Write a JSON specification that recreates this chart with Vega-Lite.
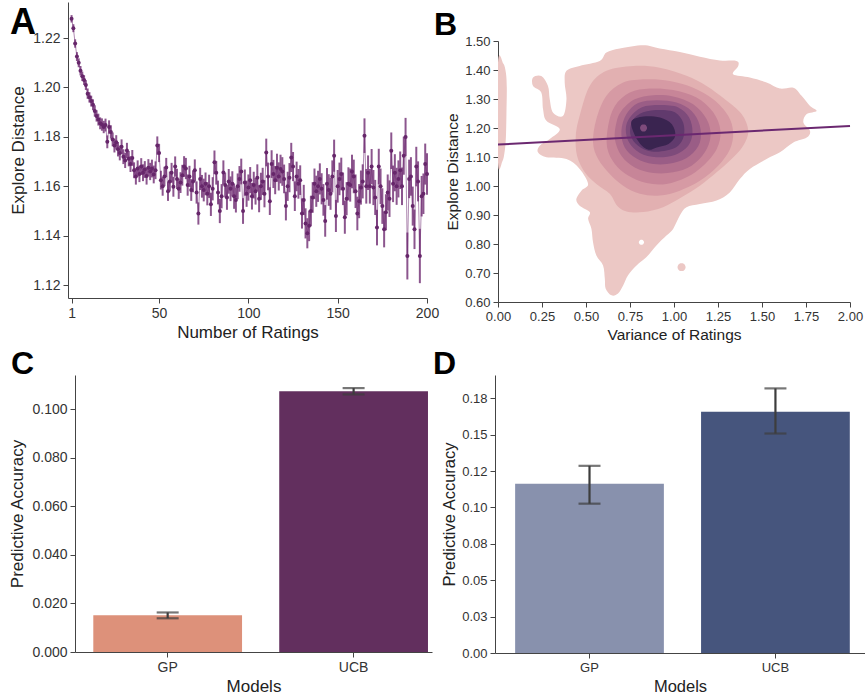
{
"$schema": "https://vega.github.io/schema/vega-lite/v6.json",
"padding": {"left": 8, "top": 2, "right": 0, "bottom": 0},
"background": "white",
"config": {
  "font": "Liberation Sans",
  "view": {"stroke": null},
  "axis": {"grid": false, "domainColor": "#444", "tickColor": "#444", "labelColor": "#333", "titleColor": "#222", "labelFontSize": 14, "titleFontSize": 17, "titleFontWeight": "normal", "tickSize": 5, "labelPadding": 3, "domainWidth": 1, "tickWidth": 1, "labelOverlap": false, "labelFlush": false},
  "title": {"fontSize": 32, "fontWeight": "bold", "color": "#000", "anchor": "start", "frame": "group"}
},
"datasets": {
"a": [
{"n":1,"m":1.2278,"e":0.0015},{"n":2,"m":1.2240,"e":0.0016},{"n":3,"m":1.2178,"e":0.0017},{"n":4,"m":1.2125,"e":0.0018},{"n":5,"m":1.2100,"e":0.0018},
{"n":6,"m":1.2068,"e":0.0019},{"n":7,"m":1.2045,"e":0.0019},{"n":8,"m":1.2030,"e":0.0020},{"n":9,"m":1.2010,"e":0.0020},{"n":10,"m":1.1975,"e":0.0021},
{"n":11,"m":1.1960,"e":0.0021},{"n":12,"m":1.1945,"e":0.0022},{"n":13,"m":1.1930,"e":0.0022},{"n":14,"m":1.1905,"e":0.0023},{"n":15,"m":1.1885,"e":0.0023},
{"n":16,"m":1.1870,"e":0.0024},{"n":17,"m":1.1855,"e":0.0024},{"n":18,"m":1.1850,"e":0.0025},{"n":19,"m":1.1840,"e":0.0025},{"n":20,"m":1.1848,"e":0.0026},
{"n":21,"m":1.1780,"e":0.0026},{"n":22,"m":1.1840,"e":0.0027},{"n":23,"m":1.1820,"e":0.0027},{"n":24,"m":1.1790,"e":0.0028},{"n":25,"m":1.1765,"e":0.0028},
{"n":26,"m":1.1778,"e":0.0029},{"n":27,"m":1.1750,"e":0.0029},{"n":28,"m":1.1735,"e":0.0030},{"n":29,"m":1.1760,"e":0.0030},{"n":30,"m":1.1720,"e":0.0030},
{"n":31,"m":1.1705,"e":0.0031},{"n":32,"m":1.1745,"e":0.0031},{"n":33,"m":1.1712,"e":0.0031},{"n":34,"m":1.1690,"e":0.0032},{"n":35,"m":1.1715,"e":0.0032},
{"n":36,"m":1.1665,"e":0.0032},{"n":37,"m":1.1640,"e":0.0033},{"n":38,"m":1.1672,"e":0.0033},{"n":39,"m":1.1650,"e":0.0033},{"n":40,"m":1.1680,"e":0.0034},
{"n":41,"m":1.1655,"e":0.0034},{"n":42,"m":1.1668,"e":0.0034},{"n":43,"m":1.1642,"e":0.0035},{"n":44,"m":1.1675,"e":0.0035},{"n":45,"m":1.1660,"e":0.0035},
{"n":46,"m":1.1672,"e":0.0036},{"n":47,"m":1.1648,"e":0.0036},{"n":48,"m":1.1665,"e":0.0036},{"n":49,"m":1.1765,"e":0.0037},{"n":50,"m":1.1735,"e":0.0037},
{"n":51,"m":1.1625,"e":0.0038},{"n":52,"m":1.1600,"e":0.0038},{"n":53,"m":1.1640,"e":0.0039},{"n":54,"m":1.1676,"e":0.0039},{"n":55,"m":1.1580,"e":0.0039},
{"n":56,"m":1.1620,"e":0.0040},{"n":57,"m":1.1655,"e":0.0040},{"n":58,"m":1.1598,"e":0.0040},{"n":59,"m":1.1680,"e":0.0041},{"n":60,"m":1.1630,"e":0.0041},
{"n":61,"m":1.1590,"e":0.0041},{"n":62,"m":1.1615,"e":0.0042},{"n":63,"m":1.1645,"e":0.0042},{"n":64,"m":1.1680,"e":0.0042},{"n":65,"m":1.1672,"e":0.0043},
{"n":66,"m":1.1605,"e":0.0043},{"n":67,"m":1.1640,"e":0.0043},{"n":68,"m":1.1585,"e":0.0044},{"n":69,"m":1.1620,"e":0.0044},{"n":70,"m":1.1665,"e":0.0044},
{"n":71,"m":1.1575,"e":0.0045},{"n":72,"m":1.1490,"e":0.0045},{"n":73,"m":1.1630,"e":0.0045},{"n":74,"m":1.1600,"e":0.0046},{"n":75,"m":1.1585,"e":0.0046},
{"n":76,"m":1.1610,"e":0.0046},{"n":77,"m":1.1570,"e":0.0047},{"n":78,"m":1.1600,"e":0.0047},{"n":79,"m":1.1527,"e":0.0047},{"n":80,"m":1.1590,"e":0.0047},
{"n":81,"m":1.1697,"e":0.0048},{"n":82,"m":1.1655,"e":0.0048},{"n":83,"m":1.1575,"e":0.0048},{"n":84,"m":1.1500,"e":0.0049},{"n":85,"m":1.1560,"e":0.0049},
{"n":86,"m":1.1656,"e":0.0049},{"n":87,"m":1.1605,"e":0.0050},{"n":88,"m":1.1555,"e":0.0050},{"n":89,"m":1.1620,"e":0.0050},{"n":90,"m":1.1590,"e":0.0050},
{"n":91,"m":1.1610,"e":0.0051},{"n":92,"m":1.1560,"e":0.0051},{"n":93,"m":1.1545,"e":0.0051},{"n":94,"m":1.1600,"e":0.0052},{"n":95,"m":1.1630,"e":0.0052},
{"n":96,"m":1.1660,"e":0.0052},{"n":97,"m":1.1500,"e":0.0052},{"n":98,"m":1.1615,"e":0.0053},{"n":99,"m":1.1570,"e":0.0053},{"n":100,"m":1.1595,"e":0.0053},
{"n":101,"m":1.1625,"e":0.0053},{"n":102,"m":1.1560,"e":0.0054},{"n":103,"m":1.1605,"e":0.0054},{"n":104,"m":1.1580,"e":0.0054},{"n":105,"m":1.1635,"e":0.0054},
{"n":106,"m":1.1550,"e":0.0055},{"n":107,"m":1.1600,"e":0.0055},{"n":108,"m":1.1620,"e":0.0055},{"n":109,"m":1.1570,"e":0.0055},{"n":110,"m":1.1737,"e":0.0056},
{"n":111,"m":1.1640,"e":0.0056},{"n":112,"m":1.1540,"e":0.0056},{"n":113,"m":1.1690,"e":0.0056},{"n":114,"m":1.1650,"e":0.0057},{"n":115,"m":1.1625,"e":0.0057},
{"n":116,"m":1.1675,"e":0.0057},{"n":117,"m":1.1640,"e":0.0057},{"n":118,"m":1.1670,"e":0.0058},{"n":119,"m":1.1660,"e":0.0058},{"n":120,"m":1.1630,"e":0.0058},
{"n":121,"m":1.1520,"e":0.0058},{"n":122,"m":1.1600,"e":0.0059},{"n":123,"m":1.1635,"e":0.0059},{"n":124,"m":1.1717,"e":0.0059},{"n":125,"m":1.1680,"e":0.0059},
{"n":126,"m":1.1560,"e":0.0060},{"n":127,"m":1.1640,"e":0.0060},{"n":128,"m":1.1610,"e":0.0060},{"n":129,"m":1.1625,"e":0.0060},{"n":130,"m":1.1490,"e":0.0061},
{"n":131,"m":1.1545,"e":0.0061},{"n":132,"m":1.1450,"e":0.0061},{"n":133,"m":1.1410,"e":0.0061},{"n":134,"m":1.1440,"e":0.0062},{"n":135,"m":1.1500,"e":0.0062},
{"n":136,"m":1.1555,"e":0.0062},{"n":137,"m":1.1610,"e":0.0062},{"n":138,"m":1.1580,"e":0.0063},{"n":139,"m":1.1600,"e":0.0063},{"n":140,"m":1.1630,"e":0.0063},
{"n":141,"m":1.1590,"e":0.0063},{"n":142,"m":1.1545,"e":0.0064},{"n":143,"m":1.1460,"e":0.0064},{"n":144,"m":1.1610,"e":0.0064},{"n":145,"m":1.1585,"e":0.0064},
{"n":146,"m":1.1570,"e":0.0065},{"n":147,"m":1.1640,"e":0.0065},{"n":148,"m":1.1724,"e":0.0065},{"n":149,"m":1.1480,"e":0.0065},{"n":150,"m":1.1600,"e":0.0066},
{"n":151,"m":1.1630,"e":0.0066},{"n":152,"m":1.1650,"e":0.0066},{"n":153,"m":1.1590,"e":0.0066},{"n":154,"m":1.1475,"e":0.0067},{"n":155,"m":1.1550,"e":0.0067},
{"n":156,"m":1.1610,"e":0.0067},{"n":157,"m":1.1605,"e":0.0067},{"n":158,"m":1.1660,"e":0.0068},{"n":159,"m":1.1640,"e":0.0068},{"n":160,"m":1.1580,"e":0.0068},
{"n":161,"m":1.1490,"e":0.0068},{"n":162,"m":1.1540,"e":0.0069},{"n":163,"m":1.1595,"e":0.0069},{"n":164,"m":1.1620,"e":0.0069},{"n":165,"m":1.1805,"e":0.0070},
{"n":166,"m":1.1600,"e":0.0070},{"n":167,"m":1.1655,"e":0.0070},{"n":168,"m":1.1600,"e":0.0070},{"n":169,"m":1.1680,"e":0.0071},{"n":170,"m":1.1595,"e":0.0071},
{"n":171,"m":1.1555,"e":0.0071},{"n":172,"m":1.1433,"e":0.0072},{"n":173,"m":1.1680,"e":0.0072},{"n":174,"m":1.1600,"e":0.0072},{"n":175,"m":1.1520,"e":0.0072},
{"n":176,"m":1.1426,"e":0.0073},{"n":177,"m":1.1495,"e":0.0073},{"n":178,"m":1.1575,"e":0.0073},{"n":179,"m":1.1550,"e":0.0074},{"n":180,"m":1.1744,"e":0.0074},
{"n":181,"m":1.1610,"e":0.0074},{"n":182,"m":1.1655,"e":0.0075},{"n":183,"m":1.1600,"e":0.0075},{"n":184,"m":1.1630,"e":0.0075},{"n":185,"m":1.1665,"e":0.0076},
{"n":186,"m":1.1600,"e":0.0076},{"n":187,"m":1.1724,"e":0.0077},{"n":188,"m":1.1800,"e":0.0077},{"n":189,"m":1.1318,"e":0.0095},{"n":190,"m":1.1630,"e":0.0078},
{"n":191,"m":1.1640,"e":0.0078},{"n":192,"m":1.1520,"e":0.0079},{"n":193,"m":1.1426,"e":0.0080},{"n":194,"m":1.1680,"e":0.0080},{"n":195,"m":1.1620,"e":0.0081},
{"n":196,"m":1.1318,"e":0.0110},{"n":197,"m":1.1560,"e":0.0082},{"n":198,"m":1.1570,"e":0.0082},{"n":199,"m":1.1690,"e":0.0083},{"n":200,"m":1.1650,"e":0.0084}
],
"kde": [
{"p":"p01","lv":1,"i":1,"x":0.389,"y":1.397},{"p":"p01","lv":1,"i":2,"x":0.464,"y":1.414},{"p":"p01","lv":1,"i":3,"x":0.578,"y":1.431},{"p":"p01","lv":1,"i":4,"x":0.616,"y":1.460},
{"p":"p01","lv":1,"i":5,"x":0.692,"y":1.474},{"p":"p01","lv":1,"i":6,"x":0.825,"y":1.485},{"p":"p01","lv":1,"i":7,"x":0.919,"y":1.474},{"p":"p01","lv":1,"i":8,"x":1.033,"y":1.462},
{"p":"p01","lv":1,"i":9,"x":1.147,"y":1.446},{"p":"p01","lv":1,"i":10,"x":1.261,"y":1.433},{"p":"p01","lv":1,"i":11,"x":1.355,"y":1.431},{"p":"p01","lv":1,"i":12,"x":1.365,"y":1.414},
{"p":"p01","lv":1,"i":13,"x":1.336,"y":1.385},{"p":"p01","lv":1,"i":14,"x":1.431,"y":1.374},{"p":"p01","lv":1,"i":15,"x":1.526,"y":1.357},{"p":"p01","lv":1,"i":16,"x":1.602,"y":1.336},
{"p":"p01","lv":1,"i":17,"x":1.678,"y":1.339},{"p":"p01","lv":1,"i":18,"x":1.725,"y":1.311},{"p":"p01","lv":1,"i":19,"x":1.773,"y":1.276},{"p":"p01","lv":1,"i":20,"x":1.810,"y":1.259},
{"p":"p01","lv":1,"i":21,"x":1.754,"y":1.248},{"p":"p01","lv":1,"i":22,"x":1.735,"y":1.219},{"p":"p01","lv":1,"i":23,"x":1.773,"y":1.190},{"p":"p01","lv":1,"i":24,"x":1.754,"y":1.167},
{"p":"p01","lv":1,"i":25,"x":1.678,"y":1.150},{"p":"p01","lv":1,"i":26,"x":1.602,"y":1.116},{"p":"p01","lv":1,"i":27,"x":1.526,"y":1.093},{"p":"p01","lv":1,"i":28,"x":1.431,"y":1.059},
{"p":"p01","lv":1,"i":29,"x":1.374,"y":1.024},{"p":"p01","lv":1,"i":30,"x":1.317,"y":0.978},{"p":"p01","lv":1,"i":31,"x":1.242,"y":0.950},{"p":"p01","lv":1,"i":32,"x":1.147,"y":0.938},
{"p":"p01","lv":1,"i":33,"x":1.071,"y":0.927},{"p":"p01","lv":1,"i":34,"x":1.033,"y":0.898},{"p":"p01","lv":1,"i":35,"x":0.995,"y":0.852},{"p":"p01","lv":1,"i":36,"x":0.957,"y":0.829},
{"p":"p01","lv":1,"i":37,"x":0.900,"y":0.795},{"p":"p01","lv":1,"i":38,"x":0.844,"y":0.755},{"p":"p01","lv":1,"i":39,"x":0.787,"y":0.726},{"p":"p01","lv":1,"i":40,"x":0.739,"y":0.692},
{"p":"p01","lv":1,"i":41,"x":0.711,"y":0.657},{"p":"p01","lv":1,"i":42,"x":0.682,"y":0.629},{"p":"p01","lv":1,"i":43,"x":0.645,"y":0.623},{"p":"p01","lv":1,"i":44,"x":0.612,"y":0.646},
{"p":"p01","lv":1,"i":45,"x":0.607,"y":0.680},{"p":"p01","lv":1,"i":46,"x":0.597,"y":0.726},{"p":"p01","lv":1,"i":47,"x":0.559,"y":0.760},{"p":"p01","lv":1,"i":48,"x":0.540,"y":0.806},
{"p":"p01","lv":1,"i":49,"x":0.531,"y":0.852},{"p":"p01","lv":1,"i":50,"x":0.512,"y":0.887},{"p":"p01","lv":1,"i":51,"x":0.521,"y":0.910},{"p":"p01","lv":1,"i":52,"x":0.464,"y":0.932},
{"p":"p01","lv":1,"i":53,"x":0.445,"y":0.955},{"p":"p01","lv":1,"i":54,"x":0.474,"y":0.984},{"p":"p01","lv":1,"i":55,"x":0.512,"y":1.007},{"p":"p01","lv":1,"i":56,"x":0.464,"y":1.059},
{"p":"p01","lv":1,"i":57,"x":0.389,"y":1.093},{"p":"p01","lv":1,"i":58,"x":0.275,"y":1.099},{"p":"p01","lv":1,"i":59,"x":0.227,"y":1.116},{"p":"p01","lv":1,"i":60,"x":0.237,"y":1.139},
{"p":"p01","lv":1,"i":61,"x":0.294,"y":1.162},{"p":"p01","lv":1,"i":62,"x":0.351,"y":1.196},{"p":"p01","lv":1,"i":63,"x":0.275,"y":1.225},{"p":"p01","lv":1,"i":64,"x":0.256,"y":1.265},
{"p":"p01","lv":1,"i":65,"x":0.246,"y":1.322},{"p":"p01","lv":1,"i":66,"x":0.199,"y":1.345},{"p":"p01","lv":1,"i":67,"x":0.199,"y":1.374},{"p":"p01","lv":1,"i":68,"x":0.246,"y":1.379},
{"p":"p01","lv":1,"i":69,"x":0.284,"y":1.345},{"p":"p01","lv":1,"i":70,"x":0.294,"y":1.299},{"p":"p01","lv":1,"i":71,"x":0.313,"y":1.253},{"p":"p01","lv":1,"i":72,"x":0.370,"y":1.242},
{"p":"p01","lv":1,"i":73,"x":0.389,"y":1.299},{"p":"p01","lv":1,"i":74,"x":0.379,"y":1.356},
{"p":"p02","lv":1,"i":1,"x":0.0,"y":1.425},{"p":"p02","lv":1,"i":2,"x":0.030,"y":1.422},{"p":"p02","lv":1,"i":3,"x":0.045,"y":1.390},{"p":"p02","lv":1,"i":4,"x":0.050,"y":1.340},
{"p":"p02","lv":1,"i":5,"x":0.048,"y":1.250},{"p":"p02","lv":1,"i":6,"x":0.045,"y":1.170},{"p":"p02","lv":1,"i":7,"x":0.038,"y":1.120},{"p":"p02","lv":1,"i":8,"x":0.025,"y":1.085},{"p":"p02","lv":1,"i":9,"x":0.0,"y":1.082},
{"p":"p03","lv":1,"i":1,"x":1.066,"y":0.720},{"p":"p03","lv":1,"i":2,"x":1.055,"y":0.732},{"p":"p03","lv":1,"i":3,"x":1.031,"y":0.732},{"p":"p03","lv":1,"i":4,"x":1.020,"y":0.720},{"p":"p03","lv":1,"i":5,"x":1.031,"y":0.708},{"p":"p03","lv":1,"i":6,"x":1.055,"y":0.708},
{"p":"p04","lv":0,"i":1,"x":0.830,"y":0.806},{"p":"p04","lv":0,"i":2,"x":0.822,"y":0.814},{"p":"p04","lv":0,"i":3,"x":0.808,"y":0.814},{"p":"p04","lv":0,"i":4,"x":0.800,"y":0.806},{"p":"p04","lv":0,"i":5,"x":0.808,"y":0.798},{"p":"p04","lv":0,"i":6,"x":0.822,"y":0.798},
{"p":"p05","lv":2,"i":1,"x":0.521,"y":1.345},{"p":"p05","lv":2,"i":2,"x":0.616,"y":1.397},{"p":"p05","lv":2,"i":3,"x":0.768,"y":1.414},{"p":"p05","lv":2,"i":4,"x":0.919,"y":1.408},
{"p":"p05","lv":2,"i":5,"x":1.071,"y":1.380},{"p":"p05","lv":2,"i":6,"x":1.185,"y":1.345},{"p":"p05","lv":2,"i":7,"x":1.289,"y":1.299},{"p":"p05","lv":2,"i":8,"x":1.384,"y":1.248},
{"p":"p05","lv":2,"i":9,"x":1.422,"y":1.190},{"p":"p05","lv":2,"i":10,"x":1.393,"y":1.139},{"p":"p05","lv":2,"i":11,"x":1.327,"y":1.093},{"p":"p05","lv":2,"i":12,"x":1.242,"y":1.047},
{"p":"p05","lv":2,"i":13,"x":1.147,"y":1.001},{"p":"p05","lv":2,"i":14,"x":1.043,"y":0.961},{"p":"p05","lv":2,"i":15,"x":0.938,"y":0.927},{"p":"p05","lv":2,"i":16,"x":0.825,"y":0.910},
{"p":"p05","lv":2,"i":17,"x":0.730,"y":0.912},{"p":"p05","lv":2,"i":18,"x":0.677,"y":0.932},{"p":"p05","lv":2,"i":19,"x":0.635,"y":0.973},{"p":"p05","lv":2,"i":20,"x":0.559,"y":1.007},
{"p":"p05","lv":2,"i":21,"x":0.493,"y":1.047},{"p":"p05","lv":2,"i":22,"x":0.449,"y":1.104},{"p":"p05","lv":2,"i":23,"x":0.442,"y":1.173},{"p":"p05","lv":2,"i":24,"x":0.464,"y":1.242},
{"p":"p06","lv":3,"i":1,"x":0.616,"y":1.311},{"p":"p06","lv":3,"i":2,"x":0.711,"y":1.357},{"p":"p06","lv":3,"i":3,"x":0.844,"y":1.368},{"p":"p06","lv":3,"i":4,"x":0.976,"y":1.362},
{"p":"p06","lv":3,"i":5,"x":1.109,"y":1.339},{"p":"p06","lv":3,"i":6,"x":1.223,"y":1.299},{"p":"p06","lv":3,"i":7,"x":1.308,"y":1.242},{"p":"p06","lv":3,"i":8,"x":1.336,"y":1.185},
{"p":"p06","lv":3,"i":9,"x":1.318,"y":1.127},{"p":"p06","lv":3,"i":10,"x":1.251,"y":1.070},{"p":"p06","lv":3,"i":11,"x":1.147,"y":1.018},{"p":"p06","lv":3,"i":12,"x":1.033,"y":0.984},
{"p":"p06","lv":3,"i":13,"x":0.919,"y":0.967},{"p":"p06","lv":3,"i":14,"x":0.806,"y":0.973},{"p":"p06","lv":3,"i":15,"x":0.711,"y":1.001},{"p":"p06","lv":3,"i":16,"x":0.635,"y":1.041},
{"p":"p06","lv":3,"i":17,"x":0.569,"y":1.093},{"p":"p06","lv":3,"i":18,"x":0.540,"y":1.150},{"p":"p06","lv":3,"i":19,"x":0.559,"y":1.231},
{"p":"p07","lv":4,"i":1,"x":0.664,"y":1.276},{"p":"p07","lv":4,"i":2,"x":0.749,"y":1.322},{"p":"p07","lv":4,"i":3,"x":0.863,"y":1.336},{"p":"p07","lv":4,"i":4,"x":0.995,"y":1.331},
{"p":"p07","lv":4,"i":5,"x":1.128,"y":1.305},{"p":"p07","lv":4,"i":6,"x":1.223,"y":1.254},{"p":"p07","lv":4,"i":7,"x":1.264,"y":1.190},{"p":"p07","lv":4,"i":8,"x":1.242,"y":1.127},
{"p":"p07","lv":4,"i":9,"x":1.166,"y":1.070},{"p":"p07","lv":4,"i":10,"x":1.071,"y":1.030},{"p":"p07","lv":4,"i":11,"x":0.957,"y":1.007},{"p":"p07","lv":4,"i":12,"x":0.844,"y":1.010},
{"p":"p07","lv":4,"i":13,"x":0.739,"y":1.036},{"p":"p07","lv":4,"i":14,"x":0.664,"y":1.076},{"p":"p07","lv":4,"i":15,"x":0.620,"y":1.133},{"p":"p07","lv":4,"i":16,"x":0.626,"y":1.208},
{"p":"p08","lv":5,"i":1,"x":0.701,"y":1.259},{"p":"p08","lv":5,"i":2,"x":0.777,"y":1.299},{"p":"p08","lv":5,"i":3,"x":0.882,"y":1.313},{"p":"p08","lv":5,"i":4,"x":0.995,"y":1.309},
{"p":"p08","lv":5,"i":5,"x":1.109,"y":1.282},{"p":"p08","lv":5,"i":6,"x":1.185,"y":1.231},{"p":"p08","lv":5,"i":7,"x":1.208,"y":1.173},{"p":"p08","lv":5,"i":8,"x":1.175,"y":1.116},
{"p":"p08","lv":5,"i":9,"x":1.100,"y":1.070},{"p":"p08","lv":5,"i":10,"x":0.995,"y":1.047},{"p":"p08","lv":5,"i":11,"x":0.882,"y":1.045},{"p":"p08","lv":5,"i":12,"x":0.777,"y":1.064},
{"p":"p08","lv":5,"i":13,"x":0.701,"y":1.104},{"p":"p08","lv":5,"i":14,"x":0.664,"y":1.162},{"p":"p08","lv":5,"i":15,"x":0.673,"y":1.219},
{"p":"p09","lv":6,"i":1,"x":0.730,"y":1.248},{"p":"p09","lv":6,"i":2,"x":0.796,"y":1.286},{"p":"p09","lv":6,"i":3,"x":0.900,"y":1.296},{"p":"p09","lv":6,"i":4,"x":1.014,"y":1.288},
{"p":"p09","lv":6,"i":5,"x":1.100,"y":1.259},{"p":"p09","lv":6,"i":6,"x":1.147,"y":1.208},{"p":"p09","lv":6,"i":7,"x":1.147,"y":1.150},{"p":"p09","lv":6,"i":8,"x":1.090,"y":1.104},
{"p":"p09","lv":6,"i":9,"x":0.995,"y":1.079},{"p":"p09","lv":6,"i":10,"x":0.882,"y":1.076},{"p":"p09","lv":6,"i":11,"x":0.787,"y":1.095},{"p":"p09","lv":6,"i":12,"x":0.720,"y":1.133},{"p":"p09","lv":6,"i":13,"x":0.701,"y":1.190},
{"p":"p10","lv":7,"i":1,"x":0.749,"y":1.236},{"p":"p10","lv":7,"i":2,"x":0.815,"y":1.271},{"p":"p10","lv":7,"i":3,"x":0.919,"y":1.279},{"p":"p10","lv":7,"i":4,"x":1.024,"y":1.271},
{"p":"p10","lv":7,"i":5,"x":1.086,"y":1.236},{"p":"p10","lv":7,"i":6,"x":1.105,"y":1.185},{"p":"p10","lv":7,"i":7,"x":1.081,"y":1.139},{"p":"p10","lv":7,"i":8,"x":1.005,"y":1.107},
{"p":"p10","lv":7,"i":9,"x":0.900,"y":1.099},{"p":"p10","lv":7,"i":10,"x":0.806,"y":1.114},{"p":"p10","lv":7,"i":11,"x":0.745,"y":1.150},{"p":"p10","lv":7,"i":12,"x":0.726,"y":1.196},
{"p":"p11","lv":8,"i":1,"x":0.764,"y":1.225},{"p":"p11","lv":8,"i":2,"x":0.825,"y":1.254},{"p":"p11","lv":8,"i":3,"x":0.919,"y":1.262},{"p":"p11","lv":8,"i":4,"x":1.005,"y":1.254},
{"p":"p11","lv":8,"i":5,"x":1.052,"y":1.219},{"p":"p11","lv":8,"i":6,"x":1.056,"y":1.173},{"p":"p11","lv":8,"i":7,"x":1.024,"y":1.139},{"p":"p11","lv":8,"i":8,"x":0.957,"y":1.122},
{"p":"p11","lv":8,"i":9,"x":0.872,"y":1.119},{"p":"p11","lv":8,"i":10,"x":0.796,"y":1.139},{"p":"p11","lv":8,"i":11,"x":0.753,"y":1.176},
{"p":"p12","lv":9,"i":1,"x":0.760,"y":1.225},{"p":"p12","lv":9,"i":2,"x":0.827,"y":1.240},{"p":"p12","lv":9,"i":3,"x":0.921,"y":1.236},{"p":"p12","lv":9,"i":4,"x":0.988,"y":1.213},
{"p":"p12","lv":9,"i":5,"x":1.007,"y":1.173},{"p":"p12","lv":9,"i":6,"x":0.969,"y":1.145},{"p":"p12","lv":9,"i":7,"x":0.902,"y":1.133},{"p":"p12","lv":9,"i":8,"x":0.855,"y":1.125},
{"p":"p12","lv":9,"i":9,"x":0.808,"y":1.145},{"p":"p12","lv":9,"i":10,"x":0.770,"y":1.185},
{"p":"p13","lv":7,"i":1,"x":0.847,"y":1.200},{"p":"p13","lv":7,"i":2,"x":0.837,"y":1.211},{"p":"p13","lv":7,"i":3,"x":0.817,"y":1.211},{"p":"p13","lv":7,"i":4,"x":0.807,"y":1.200},{"p":"p13","lv":7,"i":5,"x":0.817,"y":1.189},{"p":"p13","lv":7,"i":6,"x":0.837,"y":1.189}
]
},
"spacing": 5,
"vconcat": [
{
  "spacing": -5,
  "hconcat": [
  {
    "width": 359, "height": 296,
    "title": {"text": "A", "fontSize": 36, "dx": -58, "offset": -40},
    "data": {"name": "a"},
    "encoding": {
      "x": {"field": "n", "type": "quantitative", "scale": {"domain": [-1, 200], "nice": false}, "axis": {"values": [1, 50, 100, 150, 200], "format": "d", "tickCount": 30}, "title": "Number of Ratings"},
      "y": {"field": "m", "type": "quantitative", "scale": {"domain": [1.1148, 1.2346], "zero": false, "nice": false}, "axis": {"values": [1.12, 1.14, 1.16, 1.18, 1.2, 1.22], "format": ".2f", "titlePadding": 5, "tickCount": 30}, "title": "Explore Distance"}
    },
    "layer": [
      {"mark": {"type": "errorbar", "color": "#6f2c72", "opacity": 0.8, "thickness": 2}, "encoding": {"yError": {"field": "e"}}},
      {"mark": {"type": "line", "color": "#6f2c72", "strokeWidth": 1, "opacity": 0.55}, "encoding": {}},
      {"mark": {"type": "point", "filled": true, "color": "#66266a", "size": 16, "opacity": 1}, "encoding": {}}
    ]
  },
  {
    "width": 352, "height": 300,
    "title": {"text": "B", "dx": -64, "offset": -40},
    "layer": [
      {"data": {"name": "kde"},
       "mark": {"type": "line", "filled": true, "interpolate": "cardinal-closed", "strokeWidth": 0, "clip": true},
       "encoding": {
         "x": {"field": "x", "type": "quantitative", "scale": {"domain": [0, 2], "nice": false}, "axis": {"values": [0, 0.25, 0.5, 0.75, 1, 1.25, 1.5, 1.75, 2], "format": ".2f", "labelFontSize": 13, "titleFontSize": 15.5, "tickCount": 30}, "title": "Variance of Ratings"},
         "y": {"field": "y", "type": "quantitative", "scale": {"domain": [0.6, 1.5], "range": [300, 39], "zero": false, "nice": false}, "axis": {"values": [0.6, 0.7, 0.8, 0.9, 1.0, 1.1, 1.2, 1.3, 1.4, 1.5], "format": ".2f", "labelFontSize": 13, "titleFontSize": 15.5, "tickCount": 30}, "title": "Explore Distance"},
         "color": {"field": "lv", "type": "ordinal", "scale": {"domain": [0, 1, 2, 3, 4, 5, 6, 7, 8, 9], "range": ["#ffffff", "#ecc8c5", "#e2b0b1", "#d69aa4", "#c78598", "#b3718e", "#9a5d86", "#7e4b7b", "#613a6d", "#3a2450"]}, "legend": null},
         "detail": {"field": "p"},
         "order": {"field": "i", "type": "quantitative"}
       }},
      {"data": {"values": [{"x": 0, "y": 1.143}, {"x": 2, "y": 1.207}]},
       "mark": {"type": "line", "color": "#6b2870", "strokeWidth": 2},
       "encoding": {"x": {"field": "x", "type": "quantitative", "title": "Variance of Ratings"}, "y": {"field": "y", "type": "quantitative", "title": "Explore Distance"}}}
    ]
  }
  ]
},
{
  "spacing": 1,
  "resolve": {"scale": {"color": "independent"}},
  "hconcat": [
  {
    "width": 364, "height": 277,
    "title": {"text": "C", "dx": -57, "offset": 0, "dy": 6},
    "data": {"values": [{"model": "GP", "v": 0.0151, "lo": 0.0139, "hi": 0.0163}, {"model": "UCB", "v": 0.1075, "lo": 0.1062, "hi": 0.1088}]},
    "encoding": {"x": {"field": "model", "type": "nominal", "scale": {"range": [7, 364], "paddingInner": 0.2, "paddingOuter": 0.06, "align": 0.82}, "axis": {"labelAngle": 0}, "title": "Models"}},
    "layer": [
      {"mark": {"type": "bar"},
       "encoding": {
         "y": {"field": "v", "type": "quantitative", "scale": {"domain": [0, 0.1142], "nice": false}, "axis": {"values": [0, 0.02, 0.04, 0.06, 0.08, 0.1], "format": ".3f", "titlePadding": 5, "offset": -7, "tickCount": 30}, "title": "Predictive Accuracy"},
         "color": {"field": "model", "type": "nominal", "scale": {"range": ["#dd917a", "#622f5e"]}, "legend": null}}},
      {"mark": {"type": "errorbar", "ticks": true, "size": 22, "thickness": 2.2, "color": "#3d3d3d"},
       "encoding": {"y": {"field": "lo", "type": "quantitative", "title": "Predictive Accuracy"}, "y2": {"field": "hi"}}}
    ]
  },
  {
    "width": 370, "height": 278,
    "title": {"text": "D", "dx": -62, "offset": 0, "dy": 6},
    "data": {"values": [{"model": "GP", "v": 0.1162, "lo": 0.1026, "hi": 0.1286}, {"model": "UCB", "v": 0.1658, "lo": 0.1508, "hi": 0.1818}]},
    "encoding": {"x": {"field": "model", "type": "nominal", "scale": {"paddingInner": 0.2, "paddingOuter": 0.095, "align": 0.57}, "axis": {"labelAngle": 0, "labelFontSize": 13, "titleFontSize": 16.5}, "title": "Models"}},
    "layer": [
      {"mark": {"type": "bar"},
       "encoding": {
         "y": {"field": "v", "type": "quantitative", "scale": {"domain": [0, 0.191], "nice": false}, "axis": {"values": [0, 0.025, 0.05, 0.075, 0.1, 0.125, 0.15, 0.175], "labelExpr": "['0.00','0.03','0.05','0.08','0.10','0.12','0.15','0.18'][round(datum.value/0.025)]", "labelFontSize": 13, "titleFontSize": 16.5, "titlePadding": 4, "tickCount": 30}, "title": "Predictive Accuracy"},
         "color": {"field": "model", "type": "nominal", "scale": {"range": ["#8891ad", "#46557d"]}, "legend": null}}},
      {"mark": {"type": "errorbar", "ticks": true, "size": 22, "thickness": 2.2, "color": "#3d3d3d"},
       "encoding": {"y": {"field": "lo", "type": "quantitative", "title": "Predictive Accuracy"}, "y2": {"field": "hi"}}}
    ]
  }
  ]
}
],
"resolve": {"scale": {"color": "independent"}}
}
